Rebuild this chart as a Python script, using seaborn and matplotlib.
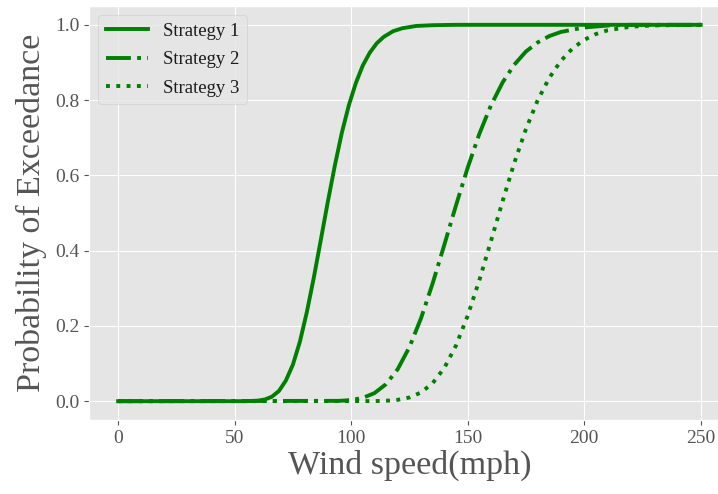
import matplotlib
matplotlib.use("Agg")
import matplotlib.pyplot as plt
import seaborn as sns
import pandas as pd

# Wind speed (mph) and probability of exceedance
s1_speed = [0, 55, 60, 63, 66, 69, 72, 75, 78, 81, 84, 87, 90, 93, 96, 99,
            102, 105, 108, 111, 114, 118, 122, 128, 135, 145, 250]
s1_prob = [0.0, 0.0, 0.0015, 0.0046, 0.012, 0.027, 0.055, 0.097, 0.158, 0.237,
           0.329, 0.429, 0.530, 0.626, 0.713, 0.786, 0.845, 0.892, 0.926,
           0.951, 0.968, 0.983, 0.991, 0.997, 0.999, 1.0, 1.0]

s2_speed = [0, 95, 100, 105, 110, 115, 120, 125, 130, 135, 140, 145, 150, 155,
            160, 165, 170, 175, 180, 185, 190, 200, 210, 220, 250]
s2_prob = [0.0, 0.0009, 0.003, 0.0088, 0.0214, 0.0454, 0.0852, 0.1435, 0.2206,
           0.3135, 0.4157, 0.5203, 0.620, 0.710, 0.786, 0.847, 0.894, 0.929,
           0.953, 0.970, 0.981, 0.993, 0.998, 1.0, 1.0]

s3_speed = [0, 110, 115, 120, 125, 130, 135, 140, 145, 150, 155, 160, 165, 170,
            175, 180, 185, 190, 195, 200, 205, 210, 220, 230, 250]
s3_prob = [0.0, 0.0003, 0.0011, 0.0036, 0.0098, 0.0231, 0.048, 0.0885, 0.148,
           0.227, 0.321, 0.4255, 0.5315, 0.633, 0.7228, 0.7987, 0.8588, 0.9043,
           0.9372, 0.960, 0.9754, 0.9853, 0.9951, 0.9985, 1.0]

series_names = ["Strategy 1", "Strategy 2", "Strategy 3"]
x_ticks = [0, 50, 100, 150, 200, 250]
y_ticks = [0.0, 0.2, 0.4, 0.6, 0.8, 1.0]

plt.style.use("ggplot")
plt.rcParams["font.family"] = ["Liberation Serif", "DejaVu Serif"]

fig = plt.figure(figsize=(7.18, 4.94), dpi=100)
ax = fig.add_axes([89 / 718, 74 / 494, 640.8 / 718, 414 / 494])

styles = ["-", "-.", ":"]
data = [(s1_speed, s1_prob), (s2_speed, s2_prob), (s3_speed, s3_prob)]
for (xs, ys), name, ls in zip(data, series_names, styles):
    df = pd.DataFrame({"speed": xs, "prob": ys})
    sns.lineplot(data=df, x="speed", y="prob", ax=ax, color="green",
                 linestyle=ls, linewidth=2.8, label=name)

ax.set_xlim(-12.5, 262.5)
ax.set_ylim(-0.05, 1.05)
ax.set_xticks(x_ticks)
ax.set_xticklabels([str(v) for v in x_ticks])
ax.set_yticks(y_ticks)
ax.set_yticklabels([f"{v:.1f}" for v in y_ticks])
ax.tick_params(labelsize=14, colors="#555555")
ax.set_xlabel("Wind speed(mph)", fontsize=24.5, color="#555555", labelpad=2)
ax.set_ylabel("Probability of Exceedance", fontsize=24.5, color="#555555",
              labelpad=6)

leg = ax.legend(loc="upper left", fontsize=13.5, handlelength=2.25,
                labelspacing=0.6)
for t in leg.get_texts():
    t.set_color("#1a1a1a")

fig.savefig("out.png", dpi=100)
